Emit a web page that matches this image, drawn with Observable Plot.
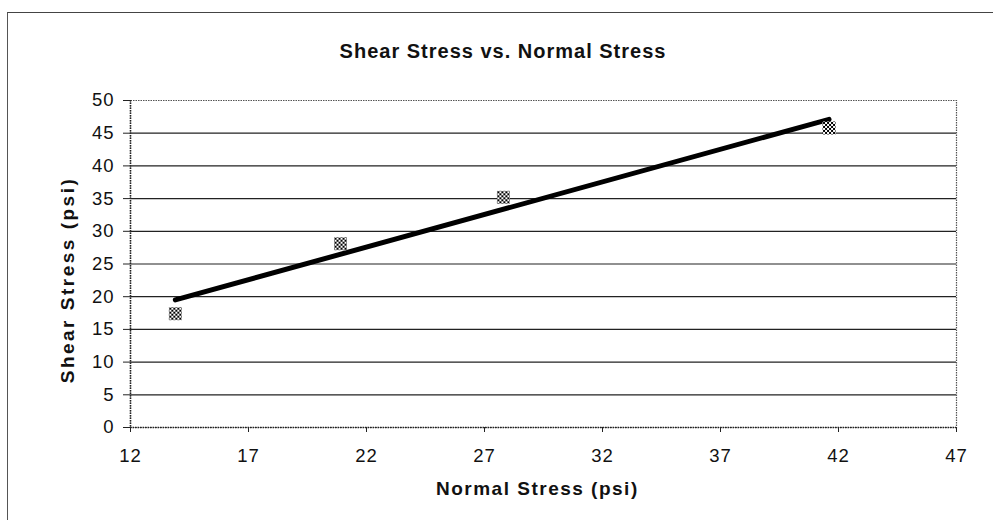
<!DOCTYPE html>
<html>
<head>
<meta charset="utf-8">
<script src="https://cdn.jsdelivr.net/npm/d3@7"></script>
<script src="https://cdn.jsdelivr.net/npm/@observablehq/plot@0.6"></script>
<style>
  html, body { margin: 0; padding: 0; background: #fff; }
  #wrap { position: relative; width: 993px; height: 520px; overflow: hidden; font-family: "Liberation Sans", Arial, sans-serif; }
  #box { position: absolute; left: 7px; top: 12px; width: 1000px; height: 600px; border-left: 1.5px solid #555; border-top: 1.5px solid #444; }
  #title { position: absolute; left: 0; width: 1006px; top: 40px; text-align: center; font-weight: bold; font-size: 20px; letter-spacing: 1px; color: #111; }
  #xlabel { position: absolute; left: 436px; width: 202px; top: 478px; text-align: center; font-weight: bold; font-size: 19px; letter-spacing: 1.5px; color: #111; white-space: nowrap; }
  #ylabel { position: absolute; left: 68px; top: 280px; transform: translate(-50%, -50%) rotate(-90deg); font-weight: bold; font-size: 19px; letter-spacing: 2.5px; color: #111; white-space: nowrap; }
  #chart { position: absolute; left: 0; top: 0; }
  #chart svg [aria-label$="tick label"], #chart svg [aria-label$="tick label"] text { font-size: 18.5px; letter-spacing: 1px; }
</style>
</head>
<body>
<div id="wrap">
  <div id="box"></div>
  <div id="chart"></div>
  <div id="title">Shear Stress vs. Normal Stress</div>
  <div id="xlabel">Normal Stress (psi)</div>
  <div id="ylabel">Shear Stress (psi)</div>
</div>
<script>
const normalStress = [13.9, 20.9, 27.8, 41.6];
const shearStress = [17.4, 28.1, 35.2, 45.8];
const xTicks = [12, 17, 22, 27, 32, 37, 42, 47];
const yTicks = [0, 5, 10, 15, 20, 25, 30, 35, 40, 45, 50];
const gridValues = [5, 10, 15, 20, 25, 30, 35, 40, 45];

const data = normalStress.map((x, i) => ({x, y: shearStress[i]}));

const chart = Plot.plot({
  width: 993,
  height: 520,
  marginLeft: 130,
  marginRight: 37,
  marginTop: 100,
  marginBottom: 93,
  style: {fontFamily: "'Liberation Sans', Arial, sans-serif", color: "#111", background: "transparent"},
  x: {domain: [12, 47]},
  y: {domain: [0, 50]},
  marks: [
    Plot.ruleY(gridValues, {stroke: "#222", strokeWidth: 1.2}),
    Plot.frame({stroke: "#555", strokeWidth: 1.2, strokeDasharray: "1.5,1"}),
    Plot.ruleX([12], {stroke: "#222", strokeWidth: 1.5, strokeDasharray: "1.5,1"}),
    Plot.ruleY([0], {stroke: "#222", strokeWidth: 1.5, strokeDasharray: "1.5,1"}),
    Plot.axisY({ticks: yTicks, tickSize: 7, tickPadding: 9, label: null, stroke: "#222", fontSize: 18.5}),
    Plot.axisX({ticks: xTicks, tickSize: 5, tickPadding: 16, label: null, stroke: "#222", fontSize: 18.5}),
    Plot.linearRegressionY(data, {x: "x", y: "y", ci: 0, stroke: "#000", strokeWidth: 5}),
    Plot.dot(data, {x: "x", y: "y", symbol: "square", r: 7.3, fill: "url(#chk)", stroke: "none"})
  ]
});

const ns = "http://www.w3.org/2000/svg";
const defs = document.createElementNS(ns, "defs");
defs.innerHTML = '<pattern id="chk" width="4" height="4" patternUnits="userSpaceOnUse">' +
  '<rect width="4" height="4" fill="#fff"/>' +
  '<rect width="2" height="2" fill="#000"/>' +
  '<rect x="2" y="2" width="2" height="2" fill="#000"/></pattern>';
chart.insertBefore(defs, chart.firstChild);

document.getElementById("chart").appendChild(chart);
</script>
</body>
</html>
